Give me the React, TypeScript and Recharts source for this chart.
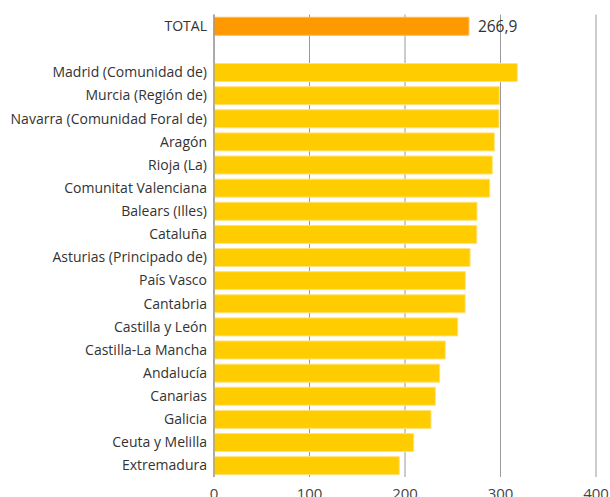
import React from 'react';
import { BarChart, Bar, XAxis, YAxis, CartesianGrid, Cell, LabelList } from 'recharts';

const categories = [
  'TOTAL',
  ' ',
  'Madrid (Comunidad de)',
  'Murcia (Región de)',
  'Navarra (Comunidad Foral de)',
  'Aragón',
  'Rioja (La)',
  'Comunitat Valenciana ',
  'Balears (Illes)',
  'Cataluña',
  'Asturias (Principado de)',
  'País Vasco',
  'Cantabria',
  'Castilla y León',
  'Castilla-La Mancha',
  'Andalucía',
  'Canarias',
  'Galicia ',
  'Ceuta y Melilla ',
  'Extremadura',
];

const values: (number | null)[] = [
  266.9, null, 317.6, 298.8, 298.4, 293.5, 291.4, 288.7, 275.4, 275.2,
  268.1, 263.2, 263.0, 255.2, 242.2, 236.3, 231.8, 227.2, 209.1, 194.0,
];

const xTicks = [0, 100, 200, 300, 400];

const data = categories.map((name, i) => ({ name, value: values[i] }));

const FONT = '"Open Sans", sans-serif';

const TotalLabel = (props: any) => {
  const { x, y, width, height, index, value } = props;
  if (index !== 0 || value == null) return null;
  return (
    <text
      x={Number(x) + Number(width) + 9}
      y={Number(y) + Number(height) / 2}
      dy="0.36em"
      fill="#333"
      fontSize={15.5}
      fontFamily={FONT}
    >
      {String(value).replace('.', ',')}
    </text>
  );
};

export default function App() {
  return (
    <div style={{ position: 'absolute', left: 0, top: 0, width: 610, height: 497, background: '#fff' }}>
      <BarChart
        width={610}
        height={497}
        data={data}
        layout="vertical"
        margin={{ top: 14.5, right: 14, bottom: 0, left: 0 }}
        barCategoryGap="12%"
      >
        <CartesianGrid horizontal={false} vertical stroke="#999" strokeWidth={1} />
        <XAxis
          type="number"
          domain={[0, 400]}
          ticks={xTicks}
          axisLine={false}
          tickLine={false}
          height={20}
          tickMargin={5}
          tick={{ fill: '#444', fontSize: 15, fontFamily: FONT }}
          interval={0}
        />
        <YAxis
          type="category"
          dataKey="name"
          width={214}
          axisLine={{ stroke: '#888' }}
          tickLine={false}
          tickSize={5}
          tickMargin={2}
          interval={0}
          tick={{ fill: '#333', fontSize: 14, fontFamily: FONT }}
        />
        <Bar dataKey="value" isAnimationActive={false} stroke="#ffe27a" strokeWidth={1}>
          {data.map((d, i) => (
            <Cell key={i} fill={i === 0 ? '#ff9900' : '#ffcc00'} stroke={i === 0 ? '#ffb84d' : '#ffe27a'} />
          ))}
          <LabelList dataKey="value" content={<TotalLabel />} />
        </Bar>
      </BarChart>
    </div>
  );
}
